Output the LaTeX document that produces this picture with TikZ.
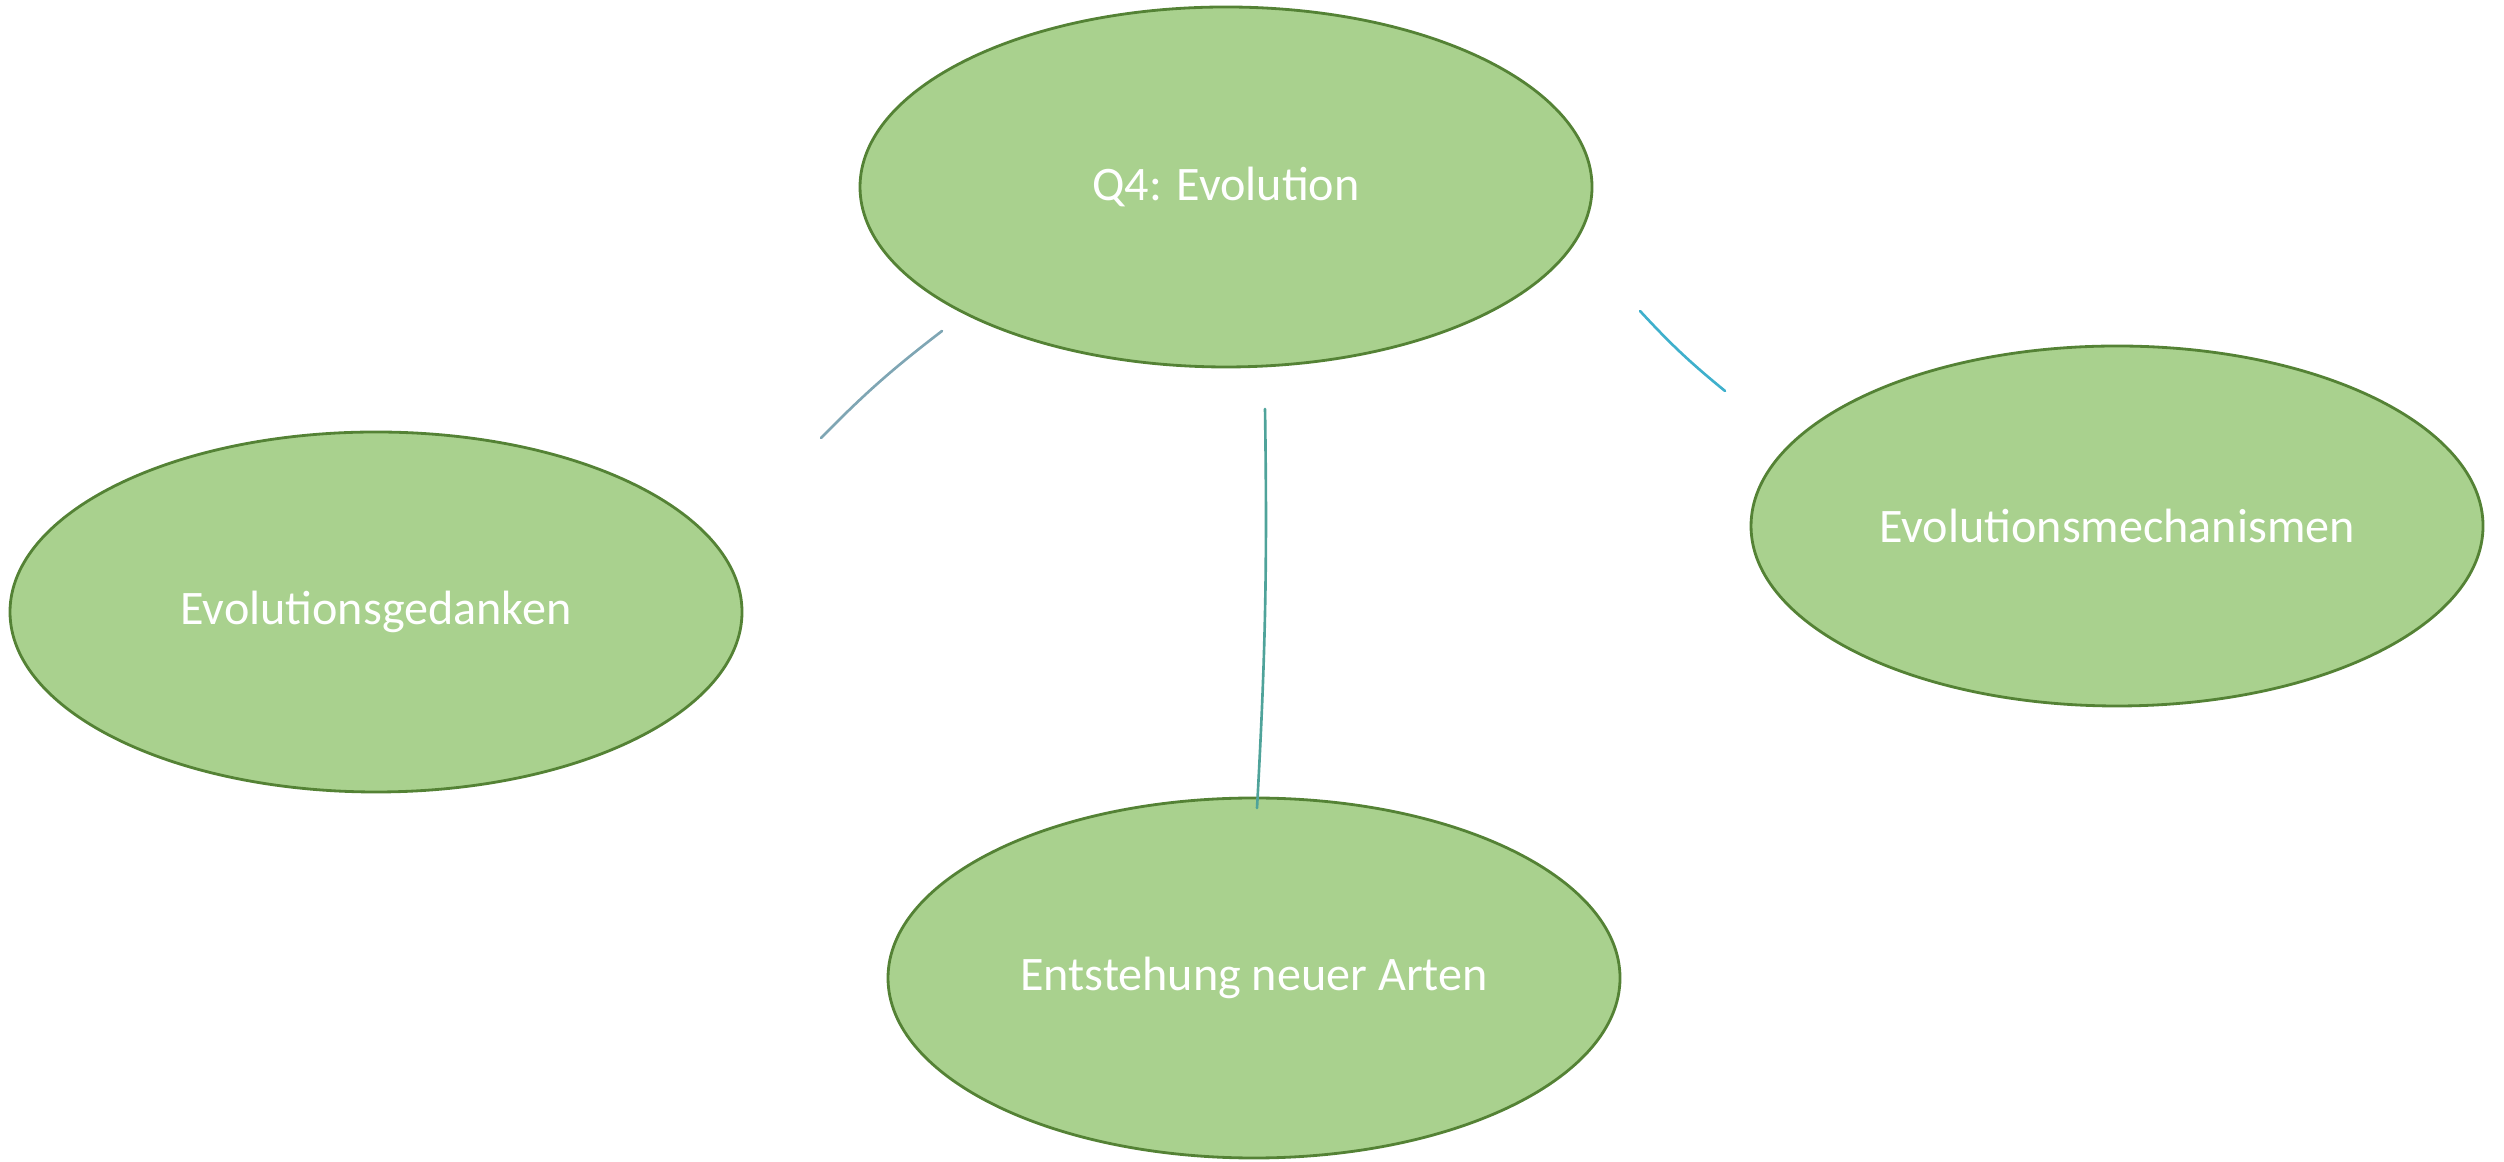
\documentclass[tikz,border=0pt]{standalone}
\usepackage{fontspec}
\setmainfont{Carlito}
\usetikzlibrary{shapes.geometric}
\definecolor{leaf}{HTML}{A9D18E}
\definecolor{leafdark}{HTML}{548235}
\definecolor{lineleft}{HTML}{7FA6B4}
\definecolor{lineright}{HTML}{3FB0CC}
\definecolor{linemid}{HTML}{4FA39A}
\begin{document}
\begin{tikzpicture}[
    topic/.style={ellipse, draw=leafdark, line width=0.8pt, fill=leaf,
      minimum width=7.32cm, minimum height=3.6cm, inner sep=0pt,
      text=white, font=\fontsize{13.7}{16}\selectfont},
    link/.style={line width=0.75pt, line cap=round}]
      \useasboundingbox (0,0) rectangle (25.04,11.61);
      \node[topic] (q4) at (12.26,9.74) {Q4: Evolution};
      \node[topic] (gedanken) at (3.76,5.49) {Evolutionsgedanken};
      \node[topic] (mech) at (21.17,6.35) {Evolutionsmechanismen};
      \node[topic] (arten) at (12.54,1.83) {Entstehung neuer Arten};
      \coordinate (l1) at (8.21,7.23);
      \coordinate (l2) at (9.42,8.30);
      \draw[link, lineleft] (l1) to[bend left=4] (l2);
      \coordinate (r1) at (16.40,8.50);
      \coordinate (r2) at (17.25,7.70);
      \draw[link, lineright] (r1) to[bend right=4] (r2);
      \coordinate (m1) at (12.65,7.52);
      \coordinate (m2) at (12.57,3.53);
      \draw[link, linemid] (m1) to[bend left=2] (m2);
    \end{tikzpicture}
\end{document}
